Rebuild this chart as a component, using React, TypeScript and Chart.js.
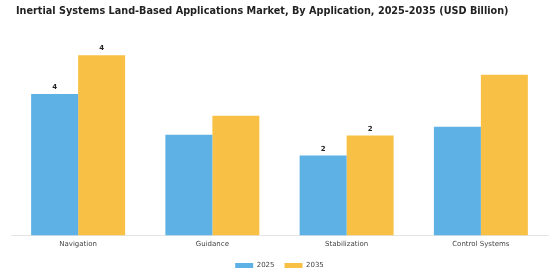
import React, { useEffect, useRef } from "react";
import { Chart, registerables } from "chart.js";

Chart.register(...registerables);

const categories = ["Navigation", "Guidance", "Stabilization", "Control Systems"];
const series2025 = [3.52, 2.51, 1.99, 2.71];
const series2035 = [4.49, 2.98, 2.49, 4.0];
const labeledCategories = ["Navigation", "Stabilization"];
const title = "Inertial Systems Land-Based Applications Market, By Application, 2025-2035 (USD Billion)";
const TITLE_FONT = "bold 9.7px 'DejaVu Sans'";

const valueLabels = {
  id: "valueLabels",
  afterDatasetsDraw(chart: any) {
    const ctx = chart.ctx;
    ctx.save();
    ctx.font = "bold 7px 'DejaVu Sans'";
    ctx.fillStyle = "#222";
    ctx.textAlign = "center";
    ctx.textBaseline = "bottom";
    chart.data.datasets.forEach((ds: any, di: number) => {
      const meta = chart.getDatasetMeta(di);
      meta.data.forEach((bar: any, i: number) => {
        if (!labeledCategories.includes(categories[i])) return;
        ctx.fillText(String(Math.round(ds.data[i])), bar.x, bar.y - 3);
      });
    });
    ctx.restore();
  },
};

const leftTitle = {
  id: "leftTitle",
  afterDraw(chart: any) {
    const tb = chart.titleBlock;
    if (!tb) return;
    const ctx = chart.ctx;
    ctx.save();
    ctx.font = TITLE_FONT;
    ctx.fillStyle = "#222";
    ctx.textAlign = "left";
    ctx.textBaseline = "middle";
    const y = tb.top + 6 + (tb.height - 6 - 17) / 2;
    ctx.fillText(title, 16, y);
    ctx.restore();
  },
};

export default function App() {
  const ref = useRef<HTMLCanvasElement>(null);
  useEffect(() => {
    document.body.style.margin = "0";
    const chart = new Chart(ref.current!, {
      type: "bar",
      data: {
        labels: categories,
        datasets: [
          { label: "2025", data: series2025, backgroundColor: "#5DB1E4" },
          { label: "2035", data: series2035, backgroundColor: "#F8C146" },
        ],
      },
      options: {
        animation: false,
        responsive: false,
        layout: { padding: { left: 11, right: 12, top: 0, bottom: 1 } },
        datasets: { bar: { categoryPercentage: 0.7, barPercentage: 1 } } as any,
        plugins: {
          title: {
            display: true,
            text: title,
            font: { family: "'DejaVu Sans'", size: 9.7, weight: "bold" },
            color: "rgba(0,0,0,0)",
            padding: { top: 6, bottom: 17 },
          },
          legend: {
            position: "bottom",
            labels: {
              boxWidth: 18,
              boxHeight: 5,
              font: { family: "'DejaVu Sans'", size: 7 },
              color: "#444",
              padding: 10,
            },
          },
          tooltip: { enabled: false },
        },
        scales: {
          x: {
            grid: { display: false, drawTicks: false },
            border: { display: true, color: "#e4e4e4" },
            ticks: { font: { family: "'DejaVu Sans'", size: 7 }, color: "#444", padding: 4 },
          },
          y: {
            display: false,
            min: 0,
            max: 5,
          },
        },
      },
      plugins: [valueLabels, leftTitle],
    });
    return () => chart.destroy();
  }, []);
  return <canvas ref={ref} width={560} height={280} style={{ display: "block" }} />;
}
